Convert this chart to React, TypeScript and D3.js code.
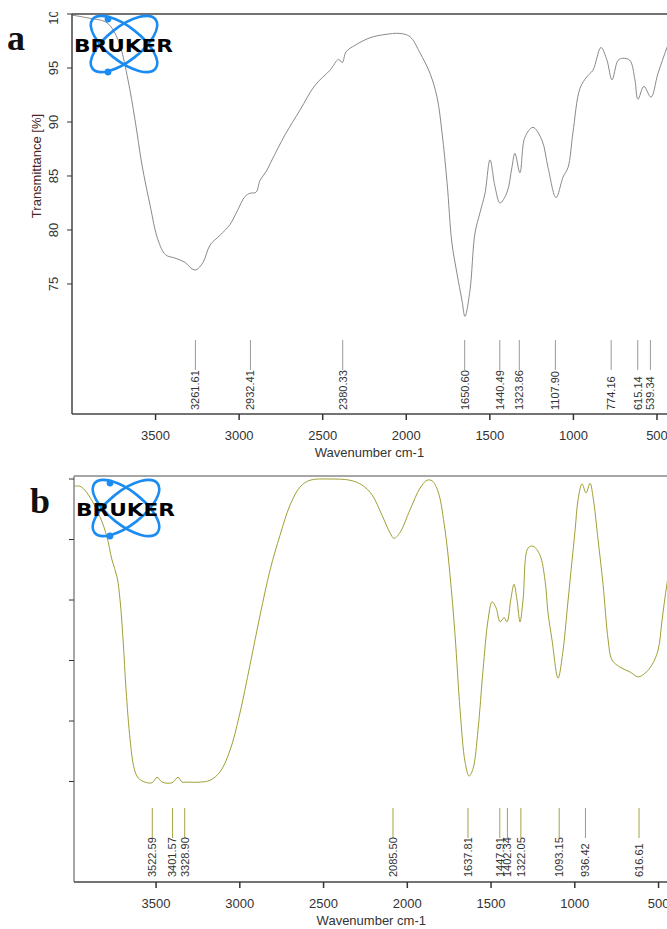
import { useMemo } from "react";
import * as d3 from "d3";

const WIDTH = 667;
const HEIGHT = 929;
const FONT = "'Liberation Sans Narrow', 'Arial Narrow', 'Liberation Sans', Arial, sans-serif";

// panel a: wavenumber (cm-1) and transmittance (%)
const WAVENUMBER_A = [
  4000, 3892, 3803, 3761, 3713, 3665, 3623, 3581, 3533, 3486, 3440, 3384, 3324, 3282, 3258,
  3216, 3174, 3115, 3055, 3007, 2965, 2935, 2899, 2875, 2839, 2803, 2726, 2636, 2546, 2456,
  2405, 2383, 2360, 2307, 2217, 2127, 2038, 1978, 1918, 1858, 1816, 1786, 1756, 1727, 1697,
  1667, 1649, 1619, 1589, 1559, 1529, 1499, 1469, 1439, 1397, 1368, 1350, 1320, 1290, 1242,
  1188, 1152, 1104, 1062, 1032, 1003, 961, 919, 883, 835, 799, 769, 733, 703, 662, 632, 614,
  578, 536, 494, 440, 400,
];
const TRANSMITTANCE_A = [
  99.9, 99.6, 99.3, 98.7, 97.1, 93.9, 90.2, 86.0, 82.3, 79.1, 77.7, 77.4, 77.0, 76.4, 76.3,
  77.0, 78.6, 79.5, 80.5, 81.9, 83.1, 83.4, 83.5, 84.6, 85.4, 86.5, 88.8, 91.1, 93.4, 94.8,
  95.8, 95.5, 96.5, 97.1, 97.8, 98.1, 98.2, 97.9, 96.4, 94.5, 92.3, 89.0, 84.4, 78.8, 76.0,
  73.5, 72.0, 74.4, 79.7, 81.6, 83.4, 86.5, 84.0, 82.5, 83.5, 85.8, 87.1, 85.3, 88.6, 89.5,
  88.3, 85.8, 83.0, 84.9, 85.8, 89.0, 93.1, 94.2, 94.8, 96.9, 95.7, 93.9, 95.7, 95.9, 95.7,
  93.9, 92.1, 93.3, 92.3, 94.5, 96.9, 98.5,
];
const PEAKS_A = [3261.61, 2932.41, 2380.33, 1650.6, 1440.49, 1323.86, 1107.9, 774.16, 615.14, 539.34];
const Y_TICKS_A = [75, 80, 85, 90, 95, 100];

// panel b
const WAVENUMBER_B = [
  3990, 3954, 3912, 3834, 3793, 3763, 3733, 3715, 3697, 3679, 3655, 3631, 3607, 3566, 3524,
  3494, 3464, 3404, 3369, 3345, 3321, 3237, 3178, 3118, 3058, 3002, 2939, 2879, 2819, 2760,
  2700, 2640, 2581, 2461, 2342, 2270, 2211, 2151, 2103, 2079, 2043, 1984, 1924, 1882, 1852,
  1816, 1775, 1745, 1715, 1685, 1655, 1631, 1607, 1578, 1548, 1518, 1494, 1470, 1446, 1422,
  1405, 1381, 1363, 1345, 1327, 1309, 1279, 1249, 1208, 1178, 1160, 1136, 1100, 1070, 1046,
  1022, 998, 981, 957, 933, 909, 891, 861, 831, 801, 778, 730, 670, 622, 581, 539, 503, 479,
  449, 402,
];
const TRANSMITTANCE_B = [
  98.8, 98.8, 97.7, 93.7, 90.4, 86.6, 83.8, 80.0, 73.4, 65.1, 56.9, 52.2, 50.6, 49.9, 49.8,
  50.7, 49.9, 49.8, 50.7, 49.9, 49.9, 49.9, 50.2, 51.6, 55.2, 61.0, 69.3, 77.5, 85.0, 90.7,
  95.7, 98.7, 99.8, 100.0, 99.8, 99.0, 97.4, 94.0, 91.1, 90.2, 91.2, 94.9, 98.5, 99.8, 99.7,
  97.9, 91.6, 84.1, 74.2, 61.8, 53.2, 50.9, 52.2, 58.5, 68.4, 76.7, 79.7, 78.7, 76.4, 77.1,
  76.4, 80.3, 82.6, 80.0, 76.4, 80.0, 88.6, 88.9, 87.4, 83.3, 77.9, 73.4, 67.1, 71.7, 78.3,
  85.0, 91.6, 96.5, 99.2, 97.7, 99.3, 97.0, 89.9, 82.5, 73.4, 70.1, 68.9, 68.1, 67.3, 67.9,
  69.3, 71.7, 76.7, 82.8, 89.9,
];
const PEAKS_B = [3522.59, 3401.57, 3328.9, 2085.5, 1637.81, 1447.91, 1402.34, 1322.05, 1093.15, 936.42, 616.61];
const Y_TICKS_B = [50, 60, 70, 80, 90, 100];

const X_TICKS = [3500, 3000, 2500, 2000, 1500, 1000, 500];

const fmtPeak = d3.format(".2f");

function Logo({ x, y }: { x: number; y: number }) {
  const blue = "#1b8cf2";
  return (
    <g transform={`translate(${x},${y})`}>
      <ellipse cx={0} cy={0} rx={40} ry={17} transform="rotate(38)" fill="none" stroke={blue} strokeWidth={2.6} />
      <ellipse cx={0} cy={0} rx={40} ry={17} transform="rotate(-38)" fill="none" stroke={blue} strokeWidth={2.6} />
      <circle cx={-16} cy={-25} r={3.4} fill={blue} />
      <circle cx={-16} cy={28} r={3.4} fill={blue} />
      <text
        x={-50}
        y={8}
        fontFamily="'DejaVu Sans', Verdana, sans-serif"
        fontWeight="bold"
        fontSize={17}
        textLength={99}
        lengthAdjust="spacingAndGlyphs"
        fill="#000"
      >
        BRUKER
      </text>
    </g>
  );
}

type PanelProps = {
  id: string;
  letter: string;
  letterX: number;
  letterY: number;
  wn: number[];
  tr: number[];
  peaks: number[];
  yTicks: number[];
  yLabels: boolean;
  left: number;
  top: number;
  bottom: number;
  xDomain: [number, number];
  xRange: [number, number];
  yDomain: [number, number];
  peakTop: number;
  peakBottom: number;
  labelBottom: number;
  color: string;
  peakColor: string;
  frameColor: string;
  logo: [number, number];
};

function Panel(p: PanelProps) {
  const xScale = useMemo(() => d3.scaleLinear().domain(p.xDomain).range(p.xRange), [p.xDomain, p.xRange]);
  const yScale = useMemo(
    () => d3.scaleLinear().domain(p.yDomain).range([p.bottom, p.top]),
    [p.yDomain, p.bottom, p.top]
  );

  const points = p.wn.map((w, i) => [w, p.tr[i]] as [number, number]);
  const line = d3
    .line<[number, number]>()
    .x((d) => xScale(d[0]))
    .y((d) => yScale(d[1]))
    .curve(d3.curveCatmullRom.alpha(0.5));

  const right = WIDTH + 10;
  const midX = (p.left + xScale(500)) / 2 + 5;

  return (
    <g>
      <defs>
        <clipPath id={`plot-${p.id}`}>
          <rect x={p.left} y={p.top} width={right - p.left} height={p.bottom - p.top} />
        </clipPath>
        <clipPath id={`ylab-${p.id}`}>
          <rect x={0} y={p.top - 2} width={p.left} height={p.bottom - p.top + 10} />
        </clipPath>
      </defs>

      <text x={p.letterX} y={p.letterY} fontFamily="'Liberation Serif', 'Times New Roman', serif" fontWeight="bold" fontSize={36} fill="#111">
        {p.letter}
      </text>

      {/* trace */}
      <path d={line(points) ?? ""} fill="none" stroke={p.color} strokeWidth={1} clipPath={`url(#plot-${p.id})`} />

      {/* peak markers */}
      {p.peaks.map((pk) => (
        <g key={pk}>
          <line x1={xScale(pk)} x2={xScale(pk)} y1={p.peakTop} y2={p.peakBottom} stroke={p.peakColor} strokeWidth={1} />
          <text
            transform={`translate(${xScale(pk)},${p.labelBottom}) rotate(-90)`}
            dy="0.35em"
            fontFamily={FONT}
            fontSize={11}
            fill="#333"
          >
            {fmtPeak(pk)}
          </text>
        </g>
      ))}

      {/* frame */}
      <line x1={p.left} x2={right} y1={p.top} y2={p.top} stroke={p.frameColor} strokeWidth={1.5} />
      <line x1={p.left} x2={p.left} y1={p.top} y2={p.bottom} stroke={p.frameColor} strokeWidth={1.5} />
      <line x1={p.left} x2={right} y1={p.bottom} y2={p.bottom} stroke="#444" strokeWidth={1.5} />

      {/* y ticks */}
      <g clipPath={`url(#ylab-${p.id})`}>
        {p.yTicks.map((t) => (
          <g key={t}>
            <line x1={p.left - 5} x2={p.left} y1={yScale(t)} y2={yScale(t)} stroke="#333" strokeWidth={1} />
            {p.yLabels && (
              <text
                transform={`translate(${p.left - 19},${yScale(t)}) rotate(-90)`}
                textAnchor="middle"
                dy="0.35em"
                fontFamily={FONT}
                fontSize={13}
                fill="#333"
              >
                {t}
              </text>
            )}
          </g>
        ))}
      </g>
      {p.yLabels && (
        <text
          transform={`translate(36,166) rotate(-90)`}
          textAnchor="middle"
          dy="0.35em"
          fontFamily="'Liberation Sans', Arial, sans-serif"
          fontSize={13}
          fill="#4a2424"
        >
          Transmittance [%]
        </text>
      )}

      {/* x ticks */}
      {X_TICKS.map((t) => (
        <g key={t}>
          <line x1={xScale(t)} x2={xScale(t)} y1={p.bottom} y2={p.bottom + 6} stroke="#333" strokeWidth={1.5} />
          <text x={xScale(t)} y={p.bottom + 26} textAnchor="middle" fontFamily={FONT} fontSize={13} fill="#333">
            {t}
          </text>
        </g>
      ))}
      <text x={midX} y={p.bottom + 43} textAnchor="middle" fontFamily={FONT} fontSize={13} fill="#333">
        Wavenumber cm-1
      </text>

      <Logo x={p.logo[0]} y={p.logo[1]} />
    </g>
  );
}

export default function App() {
  return (
    <div style={{ position: "absolute", left: 0, top: 0, width: WIDTH, height: HEIGHT, background: "#fff" }}>
      <svg width={WIDTH} height={HEIGHT} style={{ display: "block" }}>
        <rect width={WIDTH} height={HEIGHT} fill="#fff" />
        <Panel
          id="a"
          letter="a"
          letterX={7}
          letterY={50}
          wn={WAVENUMBER_A}
          tr={TRANSMITTANCE_A}
          peaks={PEAKS_A}
          yTicks={Y_TICKS_A}
          yLabels={true}
          left={72}
          top={14}
          bottom={414}
          xDomain={[4000, 400]}
          xRange={[72, 673.7]}
          yDomain={[62.96, 100]}
          peakTop={340}
          peakBottom={370}
          labelBottom={410}
          color="#8a8a8a"
          peakColor="#9a9a9a"
          frameColor="#444"
          logo={[124, 44]}
        />
        <Panel
          id="b"
          letter="b"
          letterX={30}
          letterY={513}
          wn={WAVENUMBER_B}
          tr={TRANSMITTANCE_B}
          peaks={PEAKS_B}
          yTicks={Y_TICKS_B}
          yLabels={false}
          left={74}
          top={476}
          bottom={882}
          xDomain={[3990, 400]}
          xRange={[74, 675.3]}
          yDomain={[33.39, 100.5]}
          peakTop={808}
          peakBottom={838}
          labelBottom={877}
          color="#a0a035"
          peakColor="#a5a545"
          frameColor="#888"
          logo={[126, 508]}
        />
      </svg>
    </div>
  );
}
